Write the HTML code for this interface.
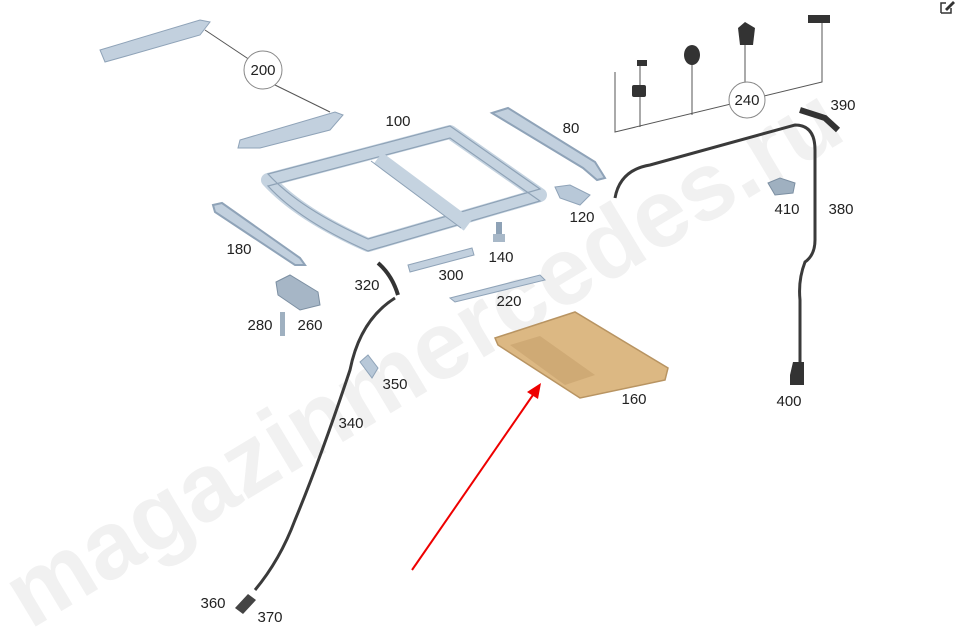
<!DOCTYPE html>
<html><head><meta charset="utf-8"><style>
html,body{margin:0;padding:0;background:#fff;}
svg{display:block;font-family:"Liberation Sans",sans-serif;}
.l{font-size:15px;fill:#222;}
</style></head><body>
<svg width="955" height="629" viewBox="0 0 955 629">
<!-- watermark -->
<text x="0" y="0" transform="translate(30,630) rotate(-31)" font-size="96" font-weight="bold" fill="#f1f1f1" font-family="Liberation Sans,sans-serif">magazinmercedes.ru</text>

<!-- 200 callout -->
<line x1="205" y1="30" x2="250" y2="60" stroke="#555" stroke-width="1"/>
<line x1="275" y1="85" x2="330" y2="112" stroke="#555" stroke-width="1"/>
<circle cx="263" cy="70" r="19" fill="#fff" stroke="#888"/>
<text class="l" x="263" y="75" text-anchor="middle">200</text>
<path d="M100,50 L200,20 L210,22 L200,35 L130,55 L105,62 Z" fill="#c2d0de" stroke="#8fa3b8"/>
<path d="M240,140 L335,112 L343,115 L330,130 L260,148 L238,148 Z" fill="#c2d0de" stroke="#8fa3b8"/>

<!-- frame 100 -->
<path d="M268,180 L450,132 L540,195 L368,245 Q300,215 268,180 Z" fill="none" stroke="#c5d3e0" stroke-width="14" stroke-linejoin="round"/>
<path d="M268,180 L450,132 L540,195 L368,245 Q300,215 268,180 Z" fill="none" stroke="#8ea2b6" stroke-width="1.2" transform="translate(0,-6)"/>
<path d="M268,180 L450,132 L540,195 L368,245 Q300,215 268,180 Z" fill="none" stroke="#8ea2b6" stroke-width="1.2" transform="translate(0,6)"/>
<path d="M378,158 L468,225" stroke="#c5d3e0" stroke-width="14"/>
<path d="M378,158 L468,225" stroke="#8ea2b6" stroke-width="1" transform="translate(-7,3)"/>
<text class="l" x="398" y="126" text-anchor="middle">100</text>

<!-- 80 -->
<path d="M492,113 L508,108 L595,162 L605,178 L597,180 L583,168 Z" fill="#c2d0de" stroke="#8fa3b8" stroke-width="2"/>
<text class="l" x="571" y="133" text-anchor="middle">80</text>
<!-- 120 -->
<path d="M555,187 L570,185 L590,195 L580,205 L560,198 Z" fill="#b8c8d8" stroke="#8fa3b8"/>
<text class="l" x="582" y="222" text-anchor="middle">120</text>
<!-- 180 -->
<path d="M213,205 L222,203 L300,258 L305,265 L295,265 L215,212 Z" fill="#c2d0de" stroke="#8fa3b8" stroke-width="2"/>
<text class="l" x="239" y="254" text-anchor="middle">180</text>
<!-- 140 -->
<rect x="496" y="222" width="6" height="14" fill="#8ea2b6"/>
<rect x="493" y="234" width="12" height="8" fill="#a8b8c8"/>
<text class="l" x="501" y="262" text-anchor="middle">140</text>
<!-- 300 -->
<path d="M408,265 L472,248 L474,255 L410,272 Z" fill="#c2d0de" stroke="#8fa3b8"/>
<text class="l" x="451" y="280" text-anchor="middle">300</text>
<!-- 220 -->
<path d="M450,298 L540,275 L545,280 L455,302 Z" fill="#c2d0de" stroke="#8fa3b8"/>
<text class="l" x="509" y="306" text-anchor="middle">220</text>
<!-- 260/280 -->
<path d="M276,282 L290,275 L318,292 L320,305 L300,310 L278,295 Z" fill="#a6b6c6" stroke="#7c8fa2"/>
<rect x="280" y="312" width="5" height="24" fill="#9fb0c0"/>
<text class="l" x="260" y="330" text-anchor="middle">280</text>
<text class="l" x="310" y="330" text-anchor="middle">260</text>
<!-- 320 -->
<path d="M378,263 Q392,275 398,295" stroke="#333" stroke-width="4" fill="none"/>
<text class="l" x="367" y="290" text-anchor="middle">320</text>
<!-- 340 hose -->
<path d="M395,298 Q360,320 350,370 Q320,460 295,520 Q280,560 255,590" stroke="#3a3a3a" stroke-width="3" fill="none"/>
<text class="l" x="351" y="428" text-anchor="middle">340</text>
<!-- 350 -->
<path d="M360,362 L368,355 L378,368 L372,378 Z" fill="#b8c8d8" stroke="#8fa3b8"/>
<text class="l" x="395" y="389" text-anchor="middle">350</text>
<!-- 360 370 -->
<path d="M235,608 L248,594 L256,600 L243,614 Z" fill="#444"/>
<text class="l" x="213" y="608" text-anchor="middle">360</text>
<text class="l" x="270" y="622" text-anchor="middle">370</text>

<!-- 160 -->
<path d="M495,338 L575,312 L668,368 L665,380 L580,398 L498,345 Z" fill="#dcb883" stroke="#b89462" stroke-width="1.5"/>
<path d="M510,345 L540,336 L595,375 L565,385 Z" fill="#c7a06c" opacity="0.6"/>
<text class="l" x="634" y="404" text-anchor="middle">160</text>
<!-- red arrow -->
<line x1="412" y1="570" x2="535" y2="392" stroke="#e00" stroke-width="2"/>
<path d="M541,383 L527,392 L538,399 Z" fill="#e00"/>

<!-- 240 group -->
<path d="M615,72 L615,132 L822,82 L822,20" stroke="#555" fill="none"/>
<line x1="640" y1="65" x2="640" y2="127" stroke="#555"/>
<line x1="692" y1="55" x2="692" y2="115" stroke="#555"/>
<line x1="745" y1="40" x2="745" y2="100" stroke="#555"/>
<circle cx="747" cy="100" r="18" fill="#fff" stroke="#888"/>
<text class="l" x="747" y="105" text-anchor="middle">240</text>
<rect x="637" y="60" width="10" height="6" fill="#333"/>
<rect x="632" y="85" width="14" height="12" fill="#333" rx="2"/>
<ellipse cx="692" cy="55" rx="8" ry="10" fill="#333"/>
<path d="M738,28 L745,22 L755,28 L753,45 L740,45 Z" fill="#333"/>
<rect x="808" y="15" width="22" height="8" fill="#333"/>
<!-- 380 hose -->
<path d="M615,198 Q620,170 650,165 L795,125 Q815,125 815,150 L815,240 Q815,255 805,262 Q798,280 800,300 L800,365" stroke="#3a3a3a" stroke-width="3" fill="none"/>
<path d="M800,110 L825,118 L838,130" stroke="#333" stroke-width="6" fill="none"/>
<text class="l" x="843" y="110" text-anchor="middle">390</text>
<text class="l" x="841" y="214" text-anchor="middle">380</text>
<!-- 410 -->
<path d="M768,183 L780,178 L795,183 L793,193 L775,195 Z" fill="#9fb0c0" stroke="#7c8fa2"/>
<text class="l" x="787" y="214" text-anchor="middle">410</text>
<!-- 400 -->
<path d="M793,362 L804,362 L804,385 L790,385 L790,375 Z" fill="#333"/>
<text class="l" x="789" y="406" text-anchor="middle">400</text>
<!-- edit icon -->
<path d="M941,13 L941,3 L946,3 M941,13 L951,13 L951,8" stroke="#333" stroke-width="1.5" fill="none"/>
<path d="M945,9 L953,1 L955,3 L947,11 Z" fill="#333"/>
</svg>
</body></html>
